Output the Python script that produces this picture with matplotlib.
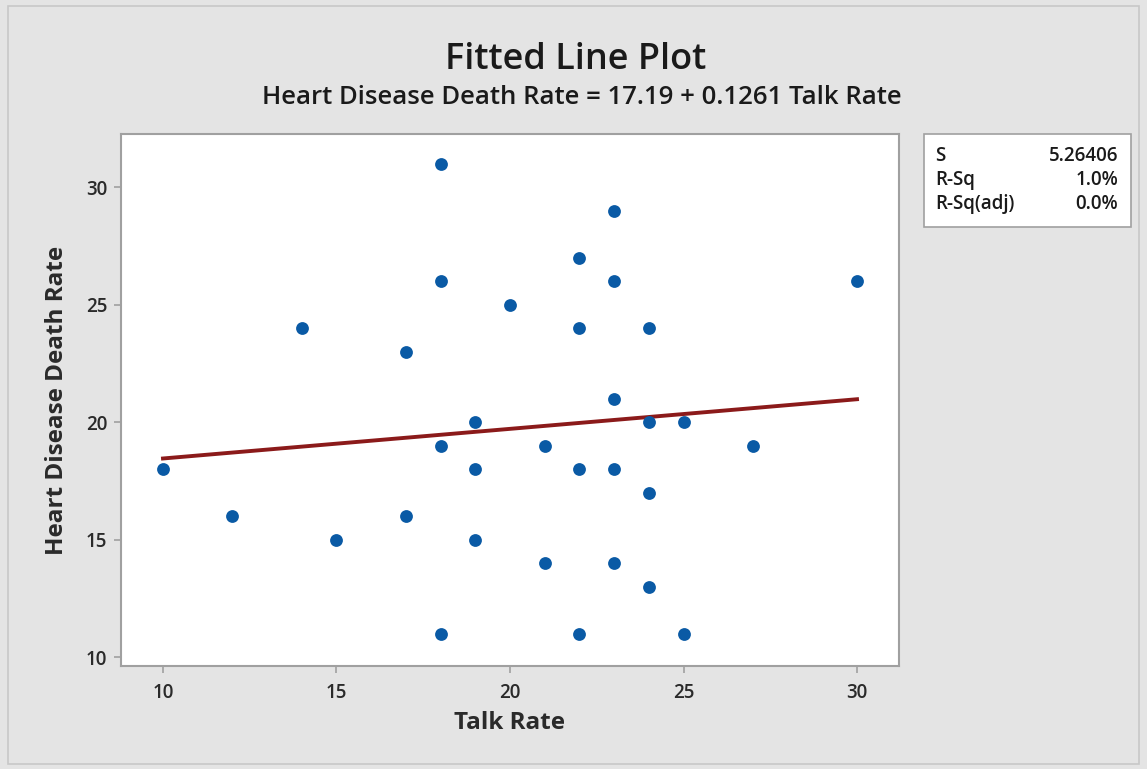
import matplotlib
matplotlib.use("Agg")
import matplotlib.pyplot as plt
from matplotlib.patches import Rectangle

talk_rate = [10, 12, 14, 15, 17, 17, 18, 18, 18, 18, 19, 19, 19, 20, 21, 21,
             22, 22, 22, 22, 23, 23, 23, 23, 23, 24, 24, 24, 24, 25, 25, 27, 30]
death_rate = [18, 16, 24, 15, 23, 16, 31, 26, 19, 11, 20, 18, 15, 25, 19, 14,
              27, 24, 18, 11, 29, 26, 21, 18, 14, 24, 20, 17, 13, 20, 11, 19, 26]
intercept = 17.19
slope = 0.1261
x_ticks = [10, 15, 20, 25, 30]
y_ticks = [10, 15, 20, 25, 30]
stats_labels = ["S", "R-Sq", "R-Sq(adj)"]
stats_values = ["5.26406", "1.0%", "0.0%"]

plt.rcParams['font.family'] = ['Open Sans', 'DejaVu Sans']
W, H = 1147, 769
fig = plt.figure(figsize=(W / 100, H / 100), dpi=100)
bg = '#e4e4e4'
fig.patch.set_facecolor(bg)
# outer frame
fig.add_artist(Rectangle((8 / W, 1 - 764 / H), (1139 - 8) / W, (764 - 6) / H,
                         transform=fig.transFigure, fill=False,
                         edgecolor='#c8c8c8', lw=1.2))

ax = fig.add_axes([121 / W, 1 - 666 / H, (899 - 121) / W, (666 - 134) / H])
ax.set_facecolor('white')
for s in ax.spines.values():
    s.set_color('#a0a0a0')
    s.set_linewidth(1.5)

ax.scatter(talk_rate, death_rate, s=85, color='#0a5aa5', zorder=3, linewidths=0)
xs = [min(talk_rate), max(talk_rate)]
ax.plot(xs, [intercept + slope * v for v in xs], color='#8b1a1a', lw=2.8, zorder=2)

ax.set_xlim(8.79, 31.21)
ax.set_ylim(9.62, 32.26)
ax.set_xticks(x_ticks)
ax.set_yticks(y_ticks)
ax.tick_params(colors='#a0a0a0', labelcolor='#2a2a2a', labelsize=13.5, length=5, width=1.2)
ax.tick_params(axis='x', pad=7)
ax.tick_params(axis='y', pad=5)
for lbl in ax.get_xticklabels() + ax.get_yticklabels():
    lbl.set_fontweight('semibold')

ax.set_xlabel('Talk Rate', fontsize=17.5, fontweight='bold', color='#2a2a2a', labelpad=6)
ax.set_ylabel('Heart Disease Death Rate', fontsize=17.5, fontweight='bold', color='#2a2a2a', labelpad=12)

fig.text(576 / W, 1 - 60 / H, 'Fitted Line Plot', ha='center', va='center',
         fontsize=26, color='#1a1a1a', fontweight='semibold')
fig.text(582 / W, 1 - 98 / H, 'Heart Disease Death Rate = 17.19 + 0.1261 Talk Rate',
         ha='center', va='center', fontsize=18.5, color='#1a1a1a', fontweight='semibold')

# stats box
fig.add_artist(Rectangle((924 / W, 1 - 227 / H), (1131 - 924) / W, (227 - 134) / H,
                         transform=fig.transFigure, facecolor='white',
                         edgecolor='#a0a0a0', lw=1.2))
for i, (lab, val) in enumerate(zip(stats_labels, stats_values)):
    yy = 1 - (156 + i * 24) / H
    fig.text(935 / W, yy, lab, ha='left', va='center', fontsize=13.5, color='#1a1a1a',
             fontweight='semibold')
    fig.text(1118 / W, yy, val, ha='right', va='center', fontsize=13.5, color='#1a1a1a',
             fontweight='semibold')

fig.savefig('out.png', dpi=100, facecolor=bg)
